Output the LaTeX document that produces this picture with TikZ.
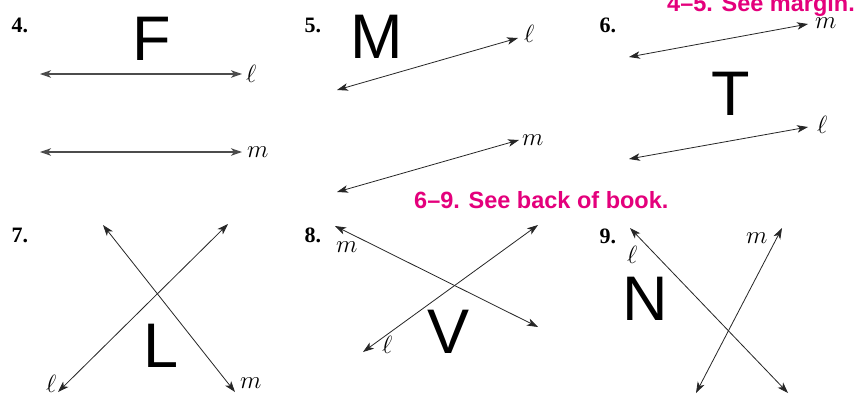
\documentclass[tikz,border=0pt]{standalone}
\usepackage{fontspec}
\setmainfont{Liberation Serif}
\setsansfont{Liberation Sans}
\usetikzlibrary{arrows.meta}
\definecolor{hotpink}{RGB}{228,0,124}
\begin{document}
\begin{tikzpicture}[x=1pt,y=-1pt,
  txt/.style={inner sep=0pt,anchor=base west},
  numlbl/.style={txt,font=\fontsize{22}{22}\selectfont\bfseries},
  bigletter/.style={txt,font=\sffamily\fontsize{63}{63}\selectfont},
  linelbl/.style={txt,font=\fontsize{23}{23}\selectfont},
  note/.style={txt,text=hotpink,font=\sffamily\bfseries\fontsize{23.5}{23.5}\selectfont},
  tip/.tip={Stealth[length=11pt,width=7.5pt,inset=3pt]},
  tline/.style={line width=0.8pt,draw=black!85,tip-tip},
  hline/.style={tline,line width=1.2pt,draw=black!70}]
\useasboundingbox (0,0) rectangle (856,394);
\fill[white] (0,0) rectangle (856,394);

% notes
\node[note] (n45) at (667,11.5) {4–5. See margin.};
\node[note] (n69) at (414,208) {6–9. See back of book.};

% exercise numbers
\node[numlbl] (q4) at (11.5,32) {4.};
\node[numlbl] (q5) at (304.5,32) {5.};
\node[numlbl] (q6) at (599.5,32) {6.};
\node[numlbl] (q7) at (11.5,242) {7.};
\node[numlbl] (q8) at (304.5,242) {8.};
\node[numlbl] (q9) at (599.5,243) {9.};

% big letters
\node[bigletter] (F) at (132,60) {F};
\node[bigletter] (M) at (350,58) {M};
\node[bigletter] (T) at (711.5,115) {T};
\node[bigletter] (L) at (143.5,367) {L};
\node[bigletter] (V) at (427.5,353) {V};
\node[bigletter] (N) at (622,320) {N};

% panel 4
\coordinate (p4la) at (40,74);  \coordinate (p4lb) at (242,74);
\coordinate (p4ma) at (40,152); \coordinate (p4mb) at (242,152);
\draw[hline] (p4la) -- (p4lb);
\draw[hline] (p4ma) -- (p4mb);
\node[linelbl] (l4) at (246,82) {$\ell$};
\node[linelbl] (m4) at (247,157) {$m$};

% panel 5
\coordinate (p5la) at (337,90);  \coordinate (p5lb) at (518,38);
\coordinate (p5ma) at (337,192); \coordinate (p5mb) at (519,140);
\draw[tline] (p5la) -- (p5lb);
\draw[tline] (p5ma) -- (p5mb);
\node[linelbl] (l5) at (524,42) {$\ell$};
\node[linelbl] (m5) at (522,145) {$m$};

% panel 6
\coordinate (p6ma) at (629,57);  \coordinate (p6mb) at (808,24);
\coordinate (p6la) at (629,159); \coordinate (p6lb) at (808,127);
\draw[tline] (p6ma) -- (p6mb);
\draw[tline] (p6la) -- (p6lb);
\node[linelbl] (m6) at (815,28) {$m$};
\node[linelbl] (l6) at (817,133) {$\ell$};

% panel 7
\coordinate (p7la) at (58,392);  \coordinate (p7lb) at (228,224);
\coordinate (p7ma) at (103,225); \coordinate (p7mb) at (235,392);
\draw[tline] (p7la) -- (p7lb);
\draw[tline] (p7ma) -- (p7mb);
\node[linelbl] (l7) at (46,392) {$\ell$};
\node[linelbl] (m7) at (240,388) {$m$};

% panel 8
\coordinate (p8ma) at (335,226); \coordinate (p8mb) at (538,327);
\coordinate (p8la) at (363,352); \coordinate (p8lb) at (538,225);
\draw[tline] (p8ma) -- (p8mb);
\draw[tline] (p8la) -- (p8lb);
\node[linelbl] (m8) at (336,252) {$m$};
\node[linelbl] (l8) at (382,353) {$\ell$};

% panel 9
\coordinate (p9la) at (630,228); \coordinate (p9lb) at (788,393);
\coordinate (p9ma) at (696,393); \coordinate (p9mb) at (782,228);
\draw[tline] (p9la) -- (p9lb);
\draw[tline] (p9ma) -- (p9mb);
\node[linelbl] (l9) at (627,263) {$\ell$};
\node[linelbl] (m9) at (746,243) {$m$};
\end{tikzpicture}
\end{document}
